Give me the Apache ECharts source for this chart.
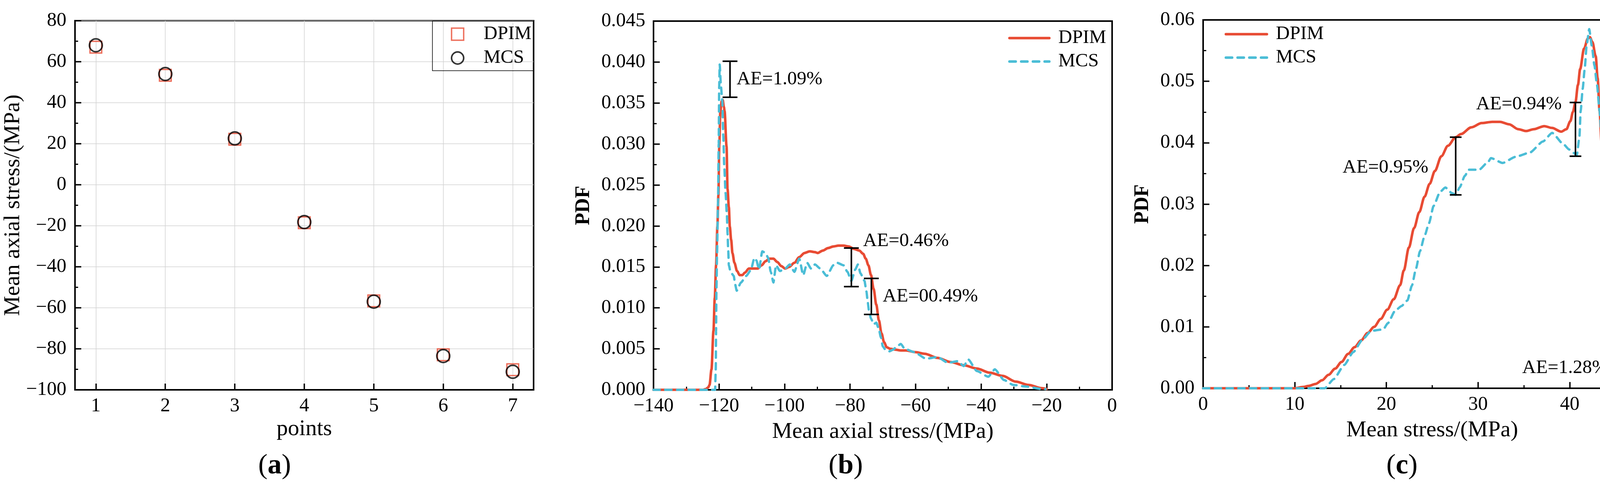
<!DOCTYPE html>
<html><head><meta charset="utf-8">
<script src="https://cdn.jsdelivr.net/npm/echarts@6/dist/echarts.min.js"></script>
<style>html,body{margin:0;padding:0;background:#fff;overflow:hidden}#c{width:4297px;height:1257px}</style>
</head><body><div id="c"></div>
<script>
// ---------- Panel (a) ----------
const points = [1, 2, 3, 4, 5, 6, 7];
const dpimA = [67.1, 53.4, 22.2, -18.5, -56.6, -82.9, -90.2];
const mcsA = [68.0, 54.0, 22.6, -18.2, -57.0, -83.5, -91.2];

// ---------- Panel (b) ----------
const dpimBx = [-140, -130, -125, -124, -123.3, -122.9, -122.3, -121.7, -121.3, -120.9, -120.5, -120.2, -119.9, -119.6, -119.2, -118.9, -118.5, -118.3, -117.7, -117.4, -117.0, -116.7, -116.3, -115.9, -115.3, -114.5, -113.7, -112.9, -112.1, -110.9, -109.8, -108.2, -107.0, -105.8, -104.6, -103.4, -102.2, -101.0, -99.8, -98.6, -97.0, -95.5, -93.9, -92.3, -90.7, -89.9, -88.3, -86.7, -85.1, -83.5, -82.0, -80.4, -78.8, -77.2, -76.0, -75.2, -74.4, -73.6, -72.8, -72.0, -71.2, -70.4, -69.6, -68.8, -67.7, -66.1, -64.5, -62.9, -60.0, -57.2, -53.3, -49.3, -45.3, -41.3, -37.4, -33.4, -29.4, -25.5, -21.5, -20.0];
const dpimBy = [0, 0, 0, 0.0001, 0.0003, 0.0006, 0.0025, 0.0072, 0.0112, 0.0152, 0.0199, 0.0237, 0.0300, 0.0340, 0.0352, 0.0354, 0.0345, 0.0340, 0.0297, 0.0245, 0.0223, 0.0199, 0.0183, 0.0167, 0.0155, 0.0145, 0.0140, 0.0140, 0.0143, 0.0148, 0.0148, 0.0148, 0.0152, 0.0157, 0.0160, 0.0160, 0.0156, 0.0151, 0.0148, 0.0150, 0.0155, 0.0162, 0.0167, 0.0169, 0.0168, 0.0167, 0.0170, 0.0173, 0.0175, 0.0176, 0.0176, 0.0175, 0.0172, 0.0170, 0.0166, 0.0160, 0.0152, 0.0140, 0.0123, 0.0104, 0.0085, 0.0069, 0.0058, 0.0052, 0.0050, 0.0049, 0.0048, 0.0048, 0.0046, 0.0044, 0.0039, 0.0034, 0.0030, 0.0026, 0.0021, 0.0017, 0.0010, 0.0006, 0.0002, 0.0001];

const mcsBx = [-140, -130, -121.2, -121.0, -120.9, -120.8, -120.6, -120.3, -120.1, -119.95, -119.8, -119.4, -119.0, -118.7, -118.4, -118.0, -117.6, -117.4, -117.2, -117.0, -116.5, -115.5, -115.1, -114.6, -113.3, -111.7, -110.3, -109.2, -108.6, -107.8, -106.8, -105.8, -105.0, -104.2, -103.4, -102.6, -101.4, -99.8, -98.4, -97.0, -95.5, -94.3, -93.1, -91.9, -90.7, -89.1, -87.1, -85.1, -83.9, -82.0, -80.8, -79.6, -78.4, -77.6, -76.8, -75.6, -75.0, -74.6, -74.2, -73.6, -72.8, -72.0, -71.2, -70.6, -70.0, -69.2, -68.0, -66.9, -65.7, -64.5, -63.3, -60.4, -56.8, -53.3, -50.1, -47.1, -45.3, -43.9, -41.3, -37.8, -35.8, -33.0, -30.2, -26.3, -21.5, -20.3];
const mcsBy = [0, 0, 0, 0.0025, 0.0072, 0.0120, 0.0167, 0.0230, 0.0300, 0.0370, 0.0397, 0.0370, 0.0352, 0.0310, 0.0272, 0.0240, 0.0213, 0.0191, 0.0171, 0.0152, 0.0144, 0.0139, 0.0129, 0.0121, 0.0131, 0.0139, 0.0146, 0.0161, 0.0158, 0.0147, 0.0169, 0.0167, 0.0161, 0.0144, 0.0131, 0.0152, 0.0145, 0.0148, 0.0153, 0.0144, 0.0160, 0.0140, 0.0155, 0.0148, 0.0153, 0.0148, 0.0139, 0.0152, 0.0155, 0.0152, 0.0144, 0.0133, 0.0147, 0.0153, 0.0142, 0.0133, 0.0120, 0.0107, 0.0096, 0.0087, 0.0080, 0.0082, 0.0074, 0.0064, 0.0053, 0.0049, 0.0047, 0.0049, 0.0053, 0.0056, 0.0050, 0.0046, 0.0038, 0.0040, 0.0033, 0.0035, 0.0029, 0.0037, 0.0023, 0.0016, 0.0025, 0.0012, 0.0006, 0.0004, 0.0001, 0.0001];

const aeBx = [-116.65, -79.6, -73.5];
const aeBlo = [0.0357, 0.0126, 0.0092];
const aeBhi = [0.0401, 0.0173, 0.0136];
const aeBtext = ['AE=1.09%', 'AE=0.46%', 'AE=00.49%'];

// ---------- Panel (c) ----------
const dpimCx = [0, 5, 10, 10.85, 11.56, 12.27, 12.98, 13.69, 14.4, 15.11, 15.82, 16.53, 17.24, 17.95, 18.66, 19.38, 20.09, 20.8, 21.5, 21.9, 22.45, 23.02, 23.59, 24.16, 24.72, 25.29, 26.0, 26.71, 27.56, 28.13, 29.27, 30.4, 31.54, 32.4, 33.39, 34.39, 35.24, 36.09, 37.23, 38.08, 39.08, 39.64, 40.07, 40.35, 40.63, 40.9, 41.14, 41.56, 41.99, 42.2, 42.48, 42.84, 43.05, 43.26, 43.48, 43.69, 43.9, 44.05, 44.19, 44.33, 44.54, 44.76, 45.04, 45.26, 45.54, 45.96, 46.6, 47.74, 50];
const dpimCy = [0, 0, 0, 0.0002, 0.0004, 0.0007, 0.0013, 0.0022, 0.0032, 0.0043, 0.0056, 0.0067, 0.0078, 0.0090, 0.0100, 0.0113, 0.0128, 0.0145, 0.0168, 0.0192, 0.0229, 0.0261, 0.0287, 0.0312, 0.0333, 0.0354, 0.0378, 0.0395, 0.0409, 0.0414, 0.0425, 0.0432, 0.0434, 0.0434, 0.0430, 0.0422, 0.0419, 0.0422, 0.0427, 0.0424, 0.0418, 0.0422, 0.0435, 0.0450, 0.0466, 0.0494, 0.0520, 0.0553, 0.0570, 0.0572, 0.0564, 0.0541, 0.0505, 0.0452, 0.0399, 0.0346, 0.0306, 0.0272, 0.0229, 0.0187, 0.0145, 0.0102, 0.0070, 0.0049, 0.0028, 0.0013, 0.0004, 0.0001, 0];

const mcsCx = [0, 5, 10, 13.27, 14.26, 15.4, 16.39, 17.39, 18.24, 18.66, 19.09, 19.66, 20.16, 20.94, 21.65, 22.29, 22.78, 23.23, 23.66, 24.16, 24.65, 25.15, 25.86, 26.43, 27.14, 27.56, 27.99, 28.56, 28.98, 30.12, 31.12, 31.4, 32.68, 34.1, 35.66, 37.08, 38.08, 39.36, 39.93, 40.78, 41.06, 41.2, 41.42, 41.63, 41.85, 42.13, 42.41, 42.7, 42.98, 43.26, 43.48, 43.62, 43.76, 43.9, 43.97, 44.12, 44.22, 44.33, 44.44, 44.59, 44.69, 44.76, 47, 50];
const mcsCy = [0, 0, 0, 0, 0.0015, 0.0038, 0.0059, 0.0079, 0.0092, 0.0094, 0.0095, 0.0096, 0.0106, 0.0126, 0.0134, 0.0143, 0.0167, 0.0195, 0.0223, 0.0248, 0.0269, 0.0297, 0.0320, 0.0327, 0.0318, 0.0315, 0.0327, 0.0346, 0.0356, 0.0356, 0.0369, 0.0375, 0.0367, 0.0377, 0.0384, 0.0402, 0.0416, 0.0397, 0.0389, 0.0380, 0.0409, 0.0452, 0.0488, 0.0519, 0.0558, 0.0585, 0.0558, 0.0526, 0.0494, 0.0452, 0.0409, 0.0356, 0.0303, 0.0282, 0.0250, 0.0208, 0.0166, 0.0123, 0.0081, 0.0039, 0.0017, 0, 0, 0];

const aeCx = [27.56, 40.63, 45.11];
const aeClo = [0.0315, 0.0378, 0.0];
const aeChi = [0.0409, 0.04655, 0.0063];
const aeCtext = ['AE=0.95%', 'AE=0.94%', 'AE=1.28%'];

// ---------- styling ----------
const RED = '#E84B33', CYAN = '#4ABDD6';
const FF = 'Liberation Serif';
const pair = (xs, ys) => xs.map((x, i) => [x, ys[i]]);
const minus = v => String(v).replace('-', '\u2212');

const aePlaceB = [{dx: 17, dy: 0, align: 'left', anchor: 'mid'}, {dx: 30, dy: -18, align: 'left', anchor: 'top'}, {dx: 29, dy: 0, align: 'left', anchor: 'mid'}];
const aePlaceC = [{dx: -70, dy: 4, align: 'right', anchor: 'mid'}, {dx: -35, dy: 5, align: 'right', anchor: 'top'}, {dx: -22, dy: -2, align: 'right', anchor: 'mid'}];

function aeRender(labels, place, cw) {
  return function (params, api) {
    const i = params.dataIndex;
    const x = api.value(0), lo = api.value(1), hi = api.value(2);
    const t = api.coord([x, hi]), b = api.coord([x, lo]);
    const p = place[i];
    const yRef = p.anchor === 'top' ? t[1] : (t[1] + b[1]) / 2;
    const ls = {stroke: '#000', lineWidth: 4};
    return {type: 'group', children: [
      {type: 'line', shape: {x1: t[0], y1: t[1], x2: b[0], y2: b[1]}, style: ls},
      {type: 'line', shape: {x1: t[0] - cw, y1: t[1], x2: t[0] + cw, y2: t[1]}, style: ls},
      {type: 'line', shape: {x1: b[0] - cw, y1: b[1], x2: b[0] + cw, y2: b[1]}, style: ls},
      {type: 'text', x: t[0] + p.dx, y: yRef + p.dy, style: {text: labels[i], fontFamily: FF, fontSize: 49, fill: '#000', align: p.align, verticalAlign: 'middle'}}
    ]};
  };
}

function axisCommon(extra) {
  return Object.assign({
    type: 'value',
    axisLine: {show: true, onZero: false, lineStyle: {color: '#000', width: 4}},
    axisTick: {show: true, inside: true, length: 16, lineStyle: {color: '#000', width: 3.5}},
    minorTick: {show: true, splitNumber: 2, length: 8, lineStyle: {color: '#000', width: 3}},
    axisLabel: {color: '#000', fontFamily: FF, fontSize: 50},
    splitLine: {show: false},
    nameLocation: 'middle',
    nameTextStyle: {color: '#000', fontFamily: FF, fontSize: 58}
  }, extra);
}

const gridBase = {show: true, borderColor: '#000', borderWidth: 4, backgroundColor: 'transparent', containLabel: false, outerBoundsMode: 'none'};
const lineLegendItem = {color: 'rgba(0,0,0,0)', borderWidth: 0, opacity: 0};

const option = {
  animation: false,
  backgroundColor: '#fff',
  grid: [
    Object.assign({left: 192, top: 53, width: 1174, height: 945}, gridBase),
    Object.assign({left: 1673, top: 54, width: 1174, height: 944}, gridBase),
    Object.assign({left: 3080, top: 51, width: 1173, height: 943}, gridBase)
  ],
  xAxis: [
    axisCommon({gridIndex: 0, min: 0.7, max: 7.3, name: 'points', nameGap: 72,
      axisTick: {show: true, inside: true, length: 16, customValues: points, lineStyle: {color: '#000', width: 3.5}},
      minorTick: {show: false},
      axisLabel: {color: '#000', fontFamily: FF, fontSize: 50, margin: 17, customValues: points},
      splitLine: {show: true, lineStyle: {color: '#d2d2d2', width: 1.5}}}),
    axisCommon({gridIndex: 1, min: -140, max: 0, interval: 20, name: 'Mean axial stress/(MPa)', nameGap: 79,
      axisLabel: {color: '#000', fontFamily: FF, fontSize: 50, margin: 17, formatter: minus}}),
    axisCommon({gridIndex: 2, min: 0, max: 50, interval: 10, name: 'Mean stress/(MPa)', nameGap: 79,
      axisLabel: {color: '#000', fontFamily: FF, fontSize: 50, margin: 17}})
  ],
  yAxis: [
    axisCommon({gridIndex: 0, min: -100, max: 80, interval: 20, name: 'Mean axial stress/(MPa)', nameGap: 112,
      axisLabel: {color: '#000', fontFamily: FF, fontSize: 50, margin: 22, formatter: minus},
      splitLine: {show: true, lineStyle: {color: '#d2d2d2', width: 1.5}}}),
    axisCommon({gridIndex: 1, min: 0, max: 0.045, interval: 0.005, name: 'PDF', nameGap: 152,
      nameTextStyle: {color: '#000', fontFamily: FF, fontSize: 52, fontWeight: 'bold'},
      axisLabel: {color: '#000', fontFamily: FF, fontSize: 50, margin: 21, formatter: v => v.toFixed(3)}}),
    axisCommon({gridIndex: 2, min: 0, max: 0.06, interval: 0.01, name: 'PDF', nameGap: 128,
      nameTextStyle: {color: '#000', fontFamily: FF, fontSize: 52, fontWeight: 'bold'},
      axisLabel: {color: '#000', fontFamily: FF, fontSize: 50, margin: 22, formatter: v => v.toFixed(2)}})
  ],
  legend: [
    {orient: 'vertical', left: 1107, top: 54, padding: [9, 6, 8, 47], itemWidth: 31, itemHeight: 31, itemGap: 12,
      borderColor: '#000', borderWidth: 1.5, backgroundColor: 'transparent',
      formatter: n => n.replace(/-[abc]$/, ''),
      textStyle: {color: '#000', fontFamily: FF, fontSize: 49, padding: [0, 0, 0, 46]},
      data: [{name: 'DPIM-a', itemStyle: {borderWidth: 3.5}}, {name: 'MCS-a', itemStyle: {borderWidth: 4}}]},
    {orient: 'vertical', left: 2581, top: 73, padding: 0, itemWidth: 102, itemHeight: 20, itemGap: 11,
      formatter: n => n.replace(/-[abc]$/, ''),
      lineStyle: {width: 6.5}, itemStyle: lineLegendItem,
      textStyle: {color: '#000', fontFamily: FF, fontSize: 49, padding: [0, 0, 0, 18]},
      data: ['DPIM-b', 'MCS-b']},
    {orient: 'vertical', left: 3135, top: 63, padding: 0, itemWidth: 105, itemHeight: 20, itemGap: 11,
      formatter: n => n.replace(/-[abc]$/, ''),
      lineStyle: {width: 6.5}, itemStyle: lineLegendItem,
      textStyle: {color: '#000', fontFamily: FF, fontSize: 49, padding: [0, 0, 0, 18]},
      data: ['DPIM-c', 'MCS-c']}
  ],
  graphic: [
    {type: 'text', x: 703, y: 1193, silent: true, style: {text: '{p|(}{b|a}{p|)}', align: 'center', verticalAlign: 'middle',
      rich: {p: {fontFamily: FF, fontSize: 72, fill: '#000'}, b: {fontFamily: FF, fontSize: 72, fontWeight: 'bold', fill: '#000'}}}},
    {type: 'text', x: 2165, y: 1193, silent: true, style: {text: '{p|(}{b|b}{p|)}', align: 'center', verticalAlign: 'middle',
      rich: {p: {fontFamily: FF, fontSize: 72, fill: '#000'}, b: {fontFamily: FF, fontSize: 72, fontWeight: 'bold', fill: '#000'}}}},
    {type: 'text', x: 3589, y: 1193, silent: true, style: {text: '{p|(}{b|c}{p|)}', align: 'center', verticalAlign: 'middle',
      rich: {p: {fontFamily: FF, fontSize: 72, fill: '#000'}, b: {fontFamily: FF, fontSize: 72, fontWeight: 'bold', fill: '#000'}}}}
  ],
  series: [
    {name: 'DPIM-a', type: 'scatter', xAxisIndex: 0, yAxisIndex: 0, symbol: 'rect', symbolSize: 30,
      itemStyle: {color: 'rgba(255,255,255,0)', borderColor: RED, borderWidth: 3.5},
      emphasis: {disabled: true}, data: pair(points, dpimA)},
    {name: 'MCS-a', type: 'scatter', xAxisIndex: 0, yAxisIndex: 0, symbol: 'circle', symbolSize: 33,
      itemStyle: {color: 'rgba(255,255,255,0)', borderColor: '#000', borderWidth: 4},
      emphasis: {disabled: true}, data: pair(points, mcsA)},
    {name: 'DPIM-b', type: 'line', xAxisIndex: 1, yAxisIndex: 1, symbol: 'none', smooth: 0.3, smoothMonotone: 'x',
      color: RED, lineStyle: {color: RED, width: 6.5, cap: 'round', join: 'round'},
      emphasis: {disabled: true}, data: pair(dpimBx, dpimBy)},
    {name: 'MCS-b', type: 'line', xAxisIndex: 1, yAxisIndex: 1, symbol: 'none', smooth: 0.2, smoothMonotone: 'x',
      color: CYAN, lineStyle: {color: CYAN, width: 6, type: [16, 14], cap: 'round', join: 'round'},
      emphasis: {disabled: true}, data: pair(mcsBx, mcsBy)},
    {name: 'AE-b', type: 'custom', xAxisIndex: 1, yAxisIndex: 1, silent: true, z: 5,
      renderItem: aeRender(aeBtext, aePlaceB, 19),
      data: aeBx.map((x, i) => [x, aeBlo[i], aeBhi[i]])},
    {name: 'DPIM-c', type: 'line', xAxisIndex: 2, yAxisIndex: 2, symbol: 'none', smooth: 0.3, smoothMonotone: 'x',
      color: RED, lineStyle: {color: RED, width: 6.5, cap: 'round', join: 'round'},
      emphasis: {disabled: true}, data: pair(dpimCx, dpimCy)},
    {name: 'MCS-c', type: 'line', xAxisIndex: 2, yAxisIndex: 2, symbol: 'none', smooth: 0.2, smoothMonotone: 'x',
      color: CYAN, lineStyle: {color: CYAN, width: 6, type: [16, 14], cap: 'round', join: 'round'},
      emphasis: {disabled: true}, data: pair(mcsCx, mcsCy)},
    {name: 'AE-c', type: 'custom', xAxisIndex: 2, yAxisIndex: 2, silent: true, z: 5,
      renderItem: aeRender(aeCtext, aePlaceC, 15),
      data: aeCx.map((x, i) => [x, aeClo[i], aeChi[i]])}
  ]
};

const chart = echarts.init(document.getElementById('c'), null, {renderer: 'canvas'});
chart.setOption(option);
</script>
</body></html>
